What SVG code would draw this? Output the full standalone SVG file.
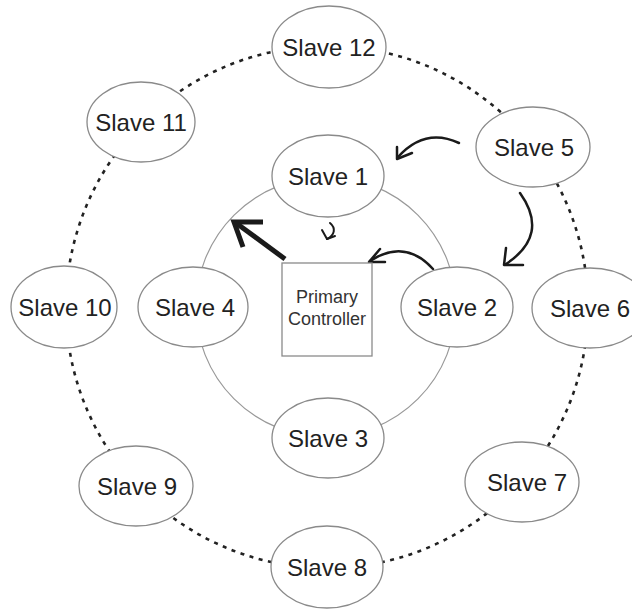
<svg xmlns="http://www.w3.org/2000/svg" width="632" height="609" viewBox="0 0 632 609">
<style>
.node ellipse{fill:#fff;stroke:#8a8a8a;stroke-width:1.3}
.lbl{font-family:"Liberation Sans",Arial,sans-serif;font-size:24px;fill:#222;text-anchor:middle}
.small{font-family:"Liberation Sans",Arial,sans-serif;font-size:18px;fill:#333;text-anchor:middle}
.arr{fill:none;stroke:#1a1a1a;stroke-width:2.5;stroke-linecap:round;stroke-linejoin:round}
</style>
<rect width="632" height="609" fill="#fff"/>
<g id="connectors">
<circle cx="327" cy="307" r="261" fill="none" stroke="#222" stroke-width="2.6" stroke-dasharray="4 5.5"/>
<circle cx="326" cy="307" r="130" fill="none" stroke="#999" stroke-width="1.2"/>
<path class="arr" d="M285,259 L236,223" style="stroke-width:5;stroke-linecap:butt"/>
<path class="arr" d="M263,222 L234,222 L243,247" style="stroke-width:5;stroke-linecap:butt;stroke-linejoin:miter"/>
<path class="arr" d="M330,223 C336,228 335,235 327,239" style="stroke-width:2"/>
<path class="arr" d="M322,230 L327,239 L335,236" style="stroke-width:2"/>
<path class="arr" d="M433,269 Q405,238 370,261"/>
<path class="arr" d="M380,249 L369,262 L385,262"/>
<path class="arr" d="M459,143 Q425,127 398,157"/>
<path class="arr" d="M397,147 L397,159 L412,153"/>
<path class="arr" d="M520,193 Q550,235 506,264"/>
<path class="arr" d="M506,248 L504,265 L523,265"/>
</g>
<g id="controller">
<rect x="282" y="263" width="90" height="93" fill="#fff" stroke="#8a8a8a" stroke-width="1.3"/>
<text class="small" x="327" y="303">Primary</text>
<text class="small" x="327" y="325">Controller</text>
</g>
<g id="slave1" class="node"><ellipse cx="328" cy="176" rx="56" ry="41"/><text class="lbl" x="328" y="184.5">Slave 1</text></g>
<g id="slave2" class="node"><ellipse cx="457" cy="307" rx="56" ry="40"/><text class="lbl" x="457" y="315.5">Slave 2</text></g>
<g id="slave3" class="node"><ellipse cx="328" cy="438" rx="56" ry="40"/><text class="lbl" x="328" y="446.5">Slave 3</text></g>
<g id="slave4" class="node"><ellipse cx="193" cy="307" rx="55" ry="40"/><text class="lbl" x="195" y="315.5">Slave 4</text></g>
<g id="slave5" class="node"><ellipse cx="533" cy="147" rx="57" ry="40"/><text class="lbl" x="534" y="155.5">Slave 5</text></g>
<g id="slave6" class="node"><ellipse cx="590" cy="308" rx="58" ry="40"/><text class="lbl" x="590" y="316.5">Slave 6</text></g>
<g id="slave7" class="node"><ellipse cx="522" cy="482" rx="57" ry="40"/><text class="lbl" x="527" y="490.5">Slave 7</text></g>
<g id="slave8" class="node"><ellipse cx="327" cy="567" rx="56" ry="41"/><text class="lbl" x="327" y="575.5">Slave 8</text></g>
<g id="slave9" class="node"><ellipse cx="136" cy="486" rx="57" ry="40"/><text class="lbl" x="137" y="494.5">Slave 9</text></g>
<g id="slave10" class="node"><ellipse cx="64" cy="307" rx="53" ry="41"/><text class="lbl" x="65" y="315.5">Slave 10</text></g>
<g id="slave11" class="node"><ellipse cx="141" cy="122" rx="54" ry="40"/><text class="lbl" x="141" y="130.5">Slave 11</text></g>
<g id="slave12" class="node"><ellipse cx="329" cy="47" rx="57" ry="41"/><text class="lbl" x="329" y="55.5">Slave 12</text></g>
</svg>
